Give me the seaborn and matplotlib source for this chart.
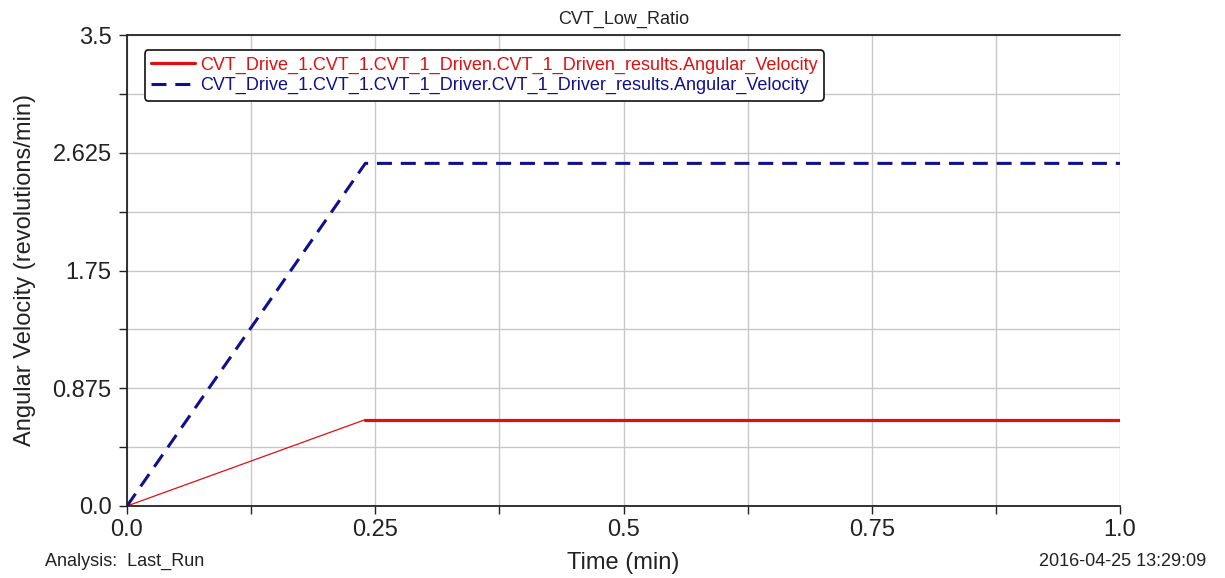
import matplotlib
matplotlib.use("Agg")
import matplotlib.pyplot as plt
import seaborn as sns
import pandas as pd
from matplotlib.ticker import MultipleLocator, FixedLocator

sns.set_theme(style="white")
plt.rcParams['font.family'] = ['Liberation Sans', 'DejaVu Sans']

time_min = [0.0, 0.24, 1.0]
driven_vel = [0.0, 0.642, 0.642]
driver_vel = [0.0, 2.546, 2.546]
driven_label = "CVT_Drive_1.CVT_1.CVT_1_Driven.CVT_1_Driven_results.Angular_Velocity"
driver_label = "CVT_Drive_1.CVT_1.CVT_1_Driver.CVT_1_Driver_results.Angular_Velocity"
x_ticks = [0.0, 0.25, 0.5, 0.75, 1.0]
x_ticklabels = ["0.0", "0.25", "0.5", "0.75", "1.0"]
y_ticks = [0.0, 0.875, 1.75, 2.625, 3.5]
y_ticklabels = ["0.0", "0.875", "1.75", "2.625", "3.5"]

red = "#e01010"
blue = "#10108c"
dark = "#222222"

fig = plt.figure(figsize=(12.25, 5.78), dpi=100)
ax = fig.add_axes([127/1225, 1-506/578, (1120-127)/1225, (506-35)/578])

df_red = pd.DataFrame({"t": time_min, "v": driven_vel})
df_blue = pd.DataFrame({"t": time_min, "v": driver_vel})
# ramp part of the driven curve is drawn thin, the plateau thick
sns.lineplot(data=df_red.iloc[:2], x="t", y="v", ax=ax, color=red, lw=0.9, legend=False)
sns.lineplot(data=df_red.iloc[1:], x="t", y="v", ax=ax, color=red, lw=2.3, label=driven_label)
sns.lineplot(data=df_blue, x="t", y="v", ax=ax, color=blue, lw=2.2, label=driver_label)
ax.lines[2].set_dashes([4.9, 2.9])

ax.set_xlim(0, 1.0)
ax.set_ylim(0, 3.5)
ax.xaxis.set_major_locator(FixedLocator(x_ticks))
ax.set_xticklabels(x_ticklabels)
ax.yaxis.set_major_locator(FixedLocator(y_ticks))
ax.set_yticklabels(y_ticklabels)
ax.xaxis.set_minor_locator(MultipleLocator(0.125))
ax.yaxis.set_minor_locator(MultipleLocator(0.4375))
ax.grid(True, which="both", color="#c8c8c8", lw=1)
ax.set_axisbelow(True)
ax.tick_params(axis="both", which="both", direction="out", length=6, width=1, colors=dark,
               bottom=True, left=True)
ax.tick_params(axis="both", which="major", labelsize=17, labelcolor=dark)
ax.tick_params(axis="x", which="major", pad=3)
ax.tick_params(axis="y", which="major", pad=5)
for side in ["top", "right"]:
    ax.spines[side].set_visible(False)
for side in ["left", "bottom"]:
    ax.spines[side].set_color(dark)
    ax.spines[side].set_linewidth(1.3)
ax.axhline(3.5, color=dark, lw=1.3, clip_on=False)

ax.set_xlabel("Time (min)", fontsize=17, color=dark)
ax.set_ylabel("Angular Velocity (revolutions/min)", fontsize=17, color=dark)
ax.xaxis.set_label_coords(0.5, (506-552)/471)
ax.yaxis.set_label_coords((36-127)/993, 0.5)
ax.set_title("CVT_Low_Ratio", fontsize=13, color=dark, pad=8)

leg = ax.legend(loc="upper left", bbox_to_anchor=(0.018, 0.968), fontsize=13, frameon=True,
                fancybox=True, edgecolor="#111111", framealpha=1, handlelength=2.4,
                handletextpad=0.3, borderpad=0.35, labelspacing=0.2, borderaxespad=0)
leg.get_frame().set_linewidth(1.2)
for txt, c in zip(leg.get_texts(), [red, blue]):
    txt.set_color(c)

fig.text(45/1225, 1-561/578, "Analysis:  Last_Run", fontsize=13, color=dark, va="center")
fig.text(1206/1225, 1-561/578, "2016-04-25 13:29:09", fontsize=13, color=dark, va="center", ha="right")

fig.savefig("out.png", dpi=100)
